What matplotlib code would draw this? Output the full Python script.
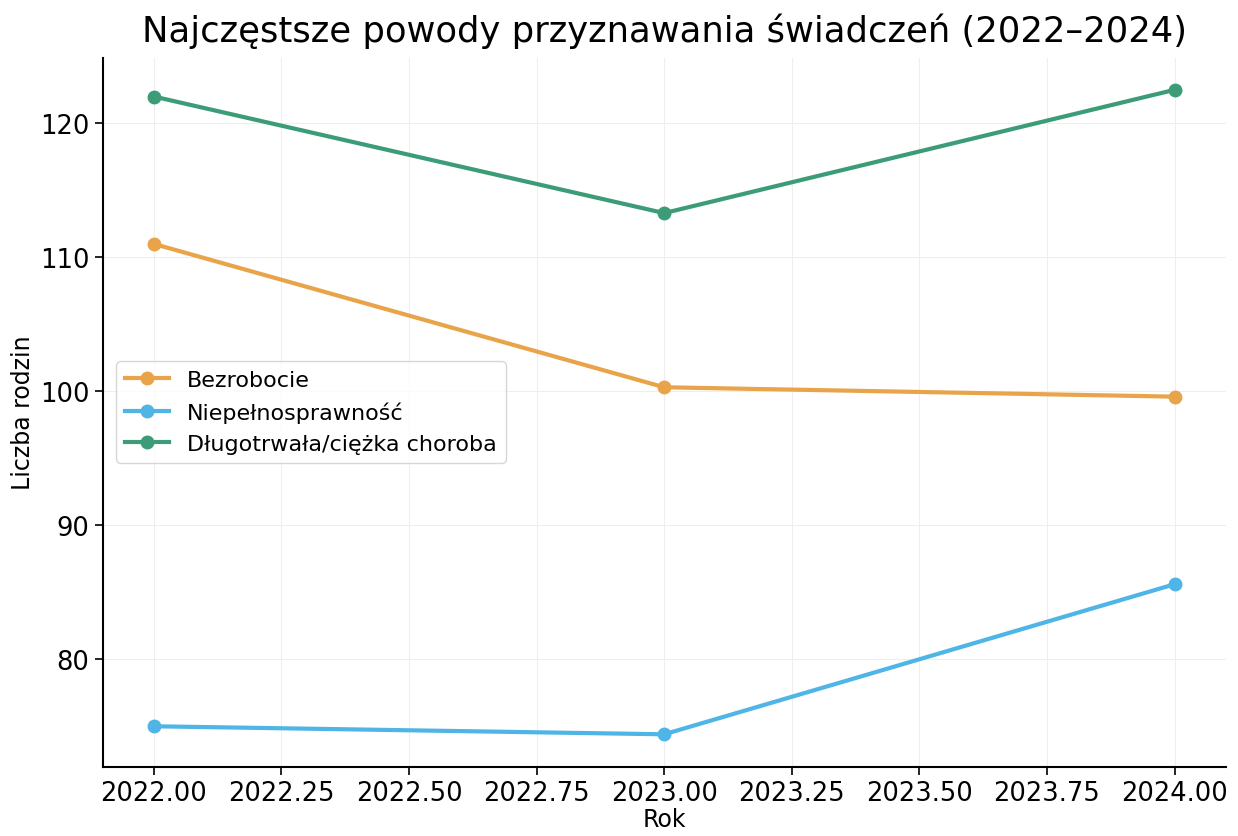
import matplotlib.pyplot as plt

years = [2022, 2023, 2024]
bezrobocie = [111.0, 100.3, 99.6]
niepelnosprawnosc = [75.0, 74.4, 85.6]
choroba = [122.0, 113.3, 122.5]

labels = ['Bezrobocie', 'Niepełnosprawność', 'Długotrwała/ciężka choroba']
colors = ['#E9A44A', '#4FB4E6', '#3C9C78']

fig, ax = plt.subplots(figsize=(12.38, 8.37), dpi=100)
fig.subplots_adjust(left=0.083, right=0.99, bottom=0.083, top=0.93)

for values, label, color in zip([bezrobocie, niepelnosprawnosc, choroba], labels, colors):
    ax.plot(years, values, marker='o', markersize=9, linewidth=3, color=color, label=label)

ax.set_title('Najczęstsze powody przyznawania świadczeń (2022–2024)', fontsize=25.5, pad=12)
ax.set_xlabel('Rok', fontsize=17, labelpad=1)
ax.set_ylabel('Liczba rodzin', fontsize=17)
ax.set_xticks([2022.0, 2022.25, 2022.5, 2022.75, 2023.0, 2023.25, 2023.5, 2023.75, 2024.0])
ax.xaxis.set_major_formatter(plt.FormatStrFormatter('%.2f'))
ax.tick_params(axis='both', labelsize=18.5, length=6, width=1.2)
ax.grid(True, color='#eeeeee', linewidth=0.8)
ax.spines['top'].set_visible(False)
ax.spines['right'].set_visible(False)
ax.spines['left'].set_linewidth(1.5)
ax.spines['bottom'].set_linewidth(1.5)

ax.legend(loc='center left', fontsize=16, frameon=True, borderaxespad=0.6)

plt.savefig('out.png')
plt.close(fig)
